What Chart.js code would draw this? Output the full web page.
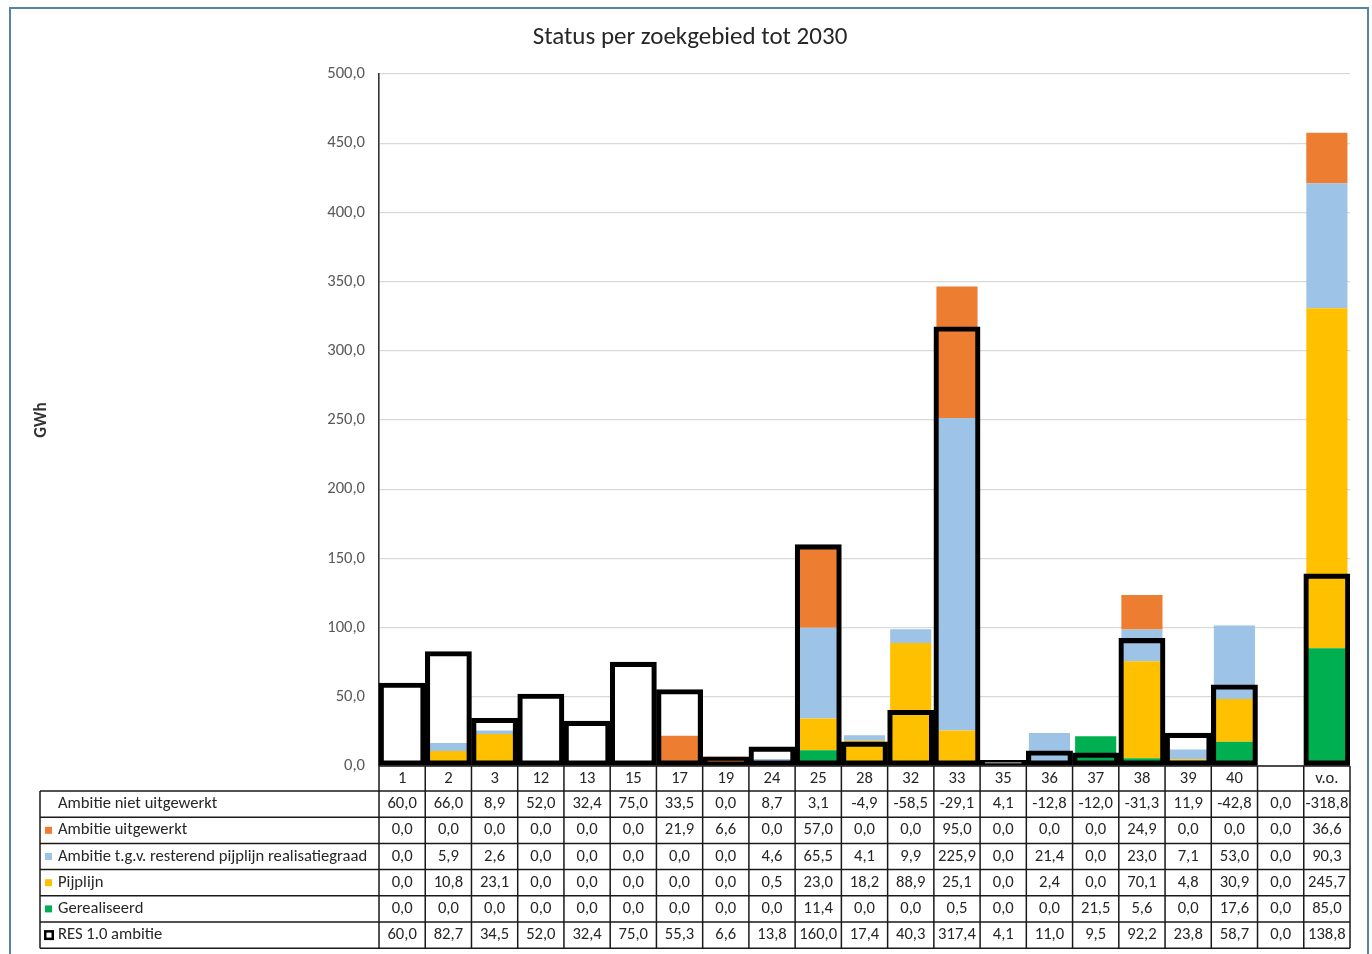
<!DOCTYPE html>
<html><head><meta charset="utf-8">
<script src="https://cdn.jsdelivr.net/npm/chart.js@4"></script>
<style>
html,body{margin:0;padding:0;background:#fff;}
#wrap{position:relative;width:1372px;height:954px;overflow:hidden;}
#frame{position:absolute;left:9px;top:7px;width:1360px;height:1000px;border:2px solid #5584a4;box-sizing:border-box;pointer-events:none;}
canvas{position:absolute;left:0;top:0;}
</style></head>
<body><div id="wrap"><canvas id="c" width="1372" height="954"></canvas><div id="frame"></div></div>
<script>
const categories = ['1','2','3','12','13','15','17','19','24','25','28','32','33','35','36','37','38','39','40','','v.o.'];
const ambitieNietUitgewerkt = [60.0,66.0,8.9,52.0,32.4,75.0,33.5,0.0,8.7,3.1,-4.9,-58.5,-29.1,4.1,-12.8,-12.0,-31.3,11.9,-42.8,0.0,-318.8];
const ambitieUitgewerkt = [0.0,0.0,0.0,0.0,0.0,0.0,21.9,6.6,0.0,57.0,0.0,0.0,95.0,0.0,0.0,0.0,24.9,0.0,0.0,0.0,36.6];
const ambitieTgv = [0.0,5.9,2.6,0.0,0.0,0.0,0.0,0.0,4.6,65.5,4.1,9.9,225.9,0.0,21.4,0.0,23.0,7.1,53.0,0.0,90.3];
const pijplijn = [0.0,10.8,23.1,0.0,0.0,0.0,0.0,0.0,0.5,23.0,18.2,88.9,25.1,0.0,2.4,0.0,70.1,4.8,30.9,0.0,245.7];
const gerealiseerd = [0.0,0.0,0.0,0.0,0.0,0.0,0.0,0.0,0.0,11.4,0.0,0.0,0.5,0.0,0.0,21.5,5.6,0.0,17.6,0.0,85.0];
const resAmbitie = [60.0,82.7,34.5,52.0,32.4,75.0,55.3,6.6,13.8,160.0,17.4,40.3,317.4,4.1,11.0,9.5,92.2,23.8,58.7,0.0,138.8];
const seriesNames = ['Ambitie niet uitgewerkt','Ambitie uitgewerkt','Ambitie t.g.v. resterend pijplijn realisatiegraad','Pijplijn','Gerealiseerd','RES 1.0 ambitie'];
const yMin = 0, yMax = 500, yStep = 50;

const FONT = "Carlito, Calibri, Lato, 'Noto Sans', sans-serif";
const FS = 16.6;
const fmt = v => v.toFixed(1).replace('.', ',');

// table rows, in the order shown below the chart
const tableRows = [
  {name: seriesNames[0], data: ambitieNietUitgewerkt, key: null},
  {name: seriesNames[1], data: ambitieUitgewerkt, key: '#ED7D31'},
  {name: seriesNames[2], data: ambitieTgv, key: '#9DC3E6'},
  {name: seriesNames[3], data: pijplijn, key: '#FFC000'},
  {name: seriesNames[4], data: gerealiseerd, key: '#00B050'},
  {name: seriesNames[5], data: resAmbitie, key: 'outline'}
];

const TABLE_LEFT = 40, HEADER_H = 25, ROW_H = 26.2;

const tablePlugin = {
  id: 'dataTable',
  afterDraw(chart) {
    const ctx = chart.ctx, xs = chart.scales.x, ca = chart.chartArea;
    const n = categories.length;
    const step = xs.getPixelForValue(1) - xs.getPixelForValue(0);
    const colLeft = i => xs.getPixelForValue(i) - step / 2;
    const right = colLeft(n);
    const top = ca.bottom;
    const rowTop = r => top + HEADER_H + r * ROW_H;
    const bottom = rowTop(tableRows.length);
    ctx.save();
    ctx.strokeStyle = '#1a1a1a';
    ctx.lineWidth = 1.5;
    ctx.beginPath();
    ctx.moveTo(colLeft(0), top); ctx.lineTo(right, top);
    for (let r = 0; r <= tableRows.length; r++) {
      ctx.moveTo(TABLE_LEFT, rowTop(r)); ctx.lineTo(right, rowTop(r));
    }
    for (let i = 0; i <= n; i++) {
      ctx.moveTo(colLeft(i), top); ctx.lineTo(colLeft(i), bottom);
    }
    ctx.moveTo(TABLE_LEFT, rowTop(0)); ctx.lineTo(TABLE_LEFT, bottom);
    ctx.stroke();

    ctx.textBaseline = 'middle';
    ctx.font = FS + 'px ' + FONT;
    tableRows.forEach((row, r) => {
      const cy = rowTop(r) + ROW_H / 2;
      if (row.key === 'outline') {
        ctx.fillStyle = '#000';
        ctx.fillRect(TABLE_LEFT + 4, cy - 5, 10, 10);
        ctx.fillStyle = '#fff';
        ctx.fillRect(TABLE_LEFT + 6.5, cy - 2.5, 5, 5);
      } else if (row.key) {
        ctx.fillStyle = row.key;
        ctx.fillRect(TABLE_LEFT + 5, cy - 3.5, 7, 7);
      }
      ctx.fillStyle = '#262626';
      ctx.textAlign = 'left';
      ctx.fillText(row.name, TABLE_LEFT + 18, cy);
      ctx.textAlign = 'center';
      row.data.forEach((v, i) => {
        ctx.fillText(fmt(v), xs.getPixelForValue(i), cy);
      });
    });
    ctx.restore();
  }
};

const common = {stack: 'status', grouped: false, barPercentage: 0.89, categoryPercentage: 1, borderWidth: 0, order: 1, clip: 0};

new Chart(document.getElementById('c'), {
  type: 'bar',
  data: {
    labels: categories,
    datasets: [
      Object.assign({label: seriesNames[4], data: gerealiseerd, backgroundColor: '#00B050'}, common),
      Object.assign({label: seriesNames[3], data: pijplijn, backgroundColor: '#FFC000'}, common),
      Object.assign({label: seriesNames[2], data: ambitieTgv, backgroundColor: '#9DC3E6'}, common),
      Object.assign({label: seriesNames[1], data: ambitieUitgewerkt, backgroundColor: '#ED7D31'}, common),
      Object.assign({label: seriesNames[0], data: ambitieNietUitgewerkt, backgroundColor: '#FFFFFF'}, common),
      {label: seriesNames[5], data: resAmbitie, stack: 'res', grouped: false, barPercentage: 1, categoryPercentage: 1,
       backgroundColor: 'rgba(0,0,0,0)', borderColor: '#000000', borderWidth: 4.5, borderSkipped: false, order: 0, clip: 0}
    ]
  },
  options: {
    responsive: false,
    animation: false,
    devicePixelRatio: 1,
    layout: {padding: {left: 30, right: 22, top: 0, bottom: 0}},
    plugins: {
      legend: {display: false},
      tooltip: {enabled: false},
      title: {display: true, text: 'Status per zoekgebied tot 2030', color: '#262626',
              font: {family: FONT, size: 25, weight: 'normal'}, padding: {top: 23, bottom: 21}}
    },
    scales: {
      x: {
        grid: {display: false, drawTicks: false},
        border: {display: false},
        ticks: {autoSkip: false, maxRotation: 0, color: '#262626', font: {family: FONT, size: FS}, padding: 3},
        afterFit(s) { s.height = 188; }
      },
      y: {
        stacked: true, min: yMin, max: yMax,
        ticks: {stepSize: yStep, callback: v => fmt(v), color: '#595959', font: {family: FONT, size: FS}, padding: 14},
        grid: {color: '#d9d9d9', lineWidth: 1.2, drawTicks: false},
        border: {display: true, color: '#333333', width: 1.6},
        title: {display: true, text: 'GWh', color: '#333333', font: {family: FONT, size: 17, weight: 'bold'}, padding: {top: 2, bottom: 0}},
        afterFit(s) { s.width = 349; }
      }
    }
  },
  plugins: [tablePlugin]
});
</script>
</body></html>
